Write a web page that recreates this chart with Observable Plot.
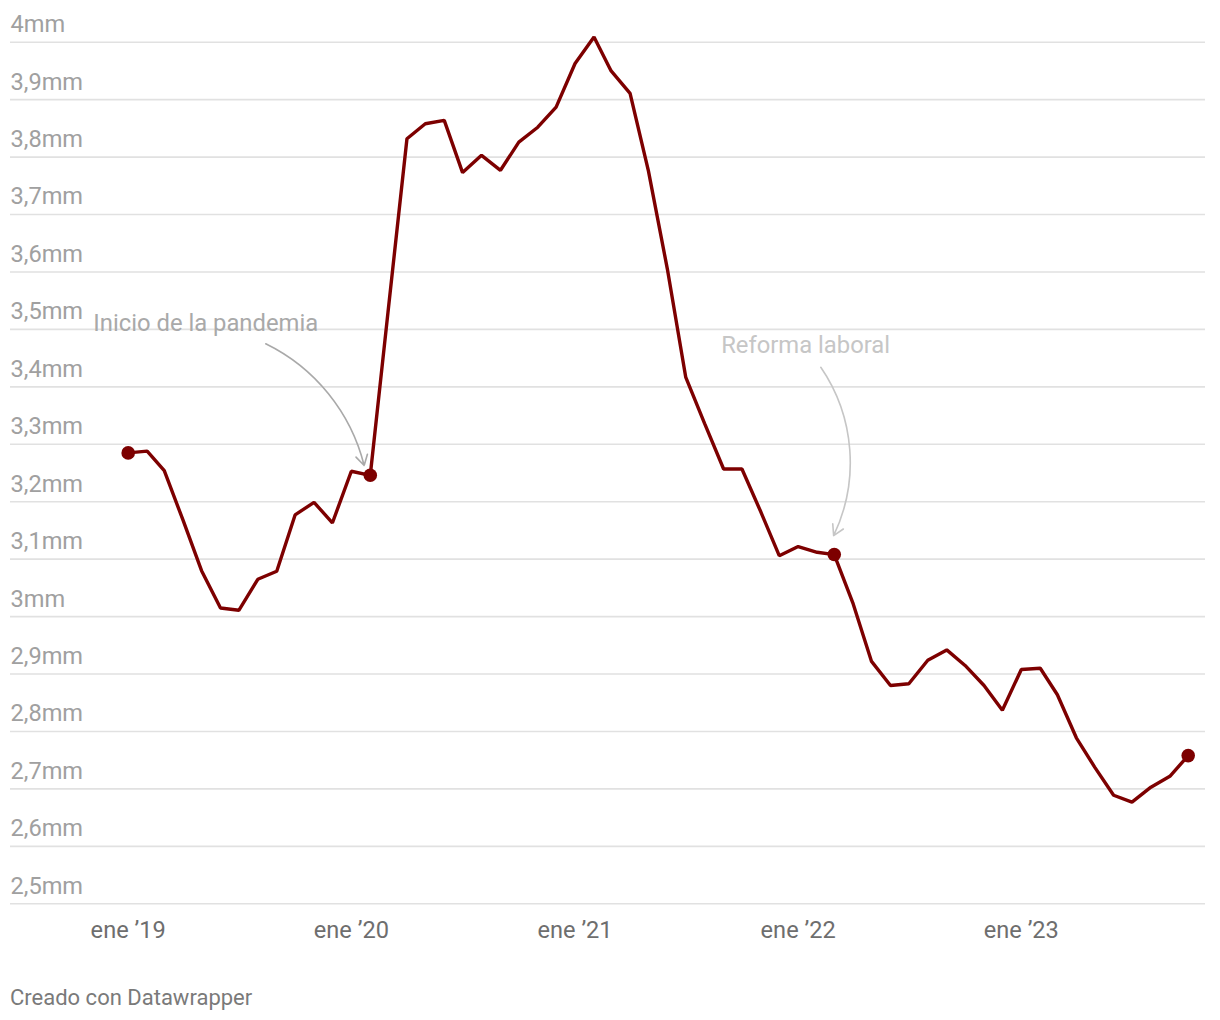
<!DOCTYPE html>
<html>
<head>
<meta charset="utf-8">
<script src="https://cdn.jsdelivr.net/npm/d3@7"></script>
<script src="https://cdn.jsdelivr.net/npm/@observablehq/plot@0.6"></script>
<style>
  html, body { margin: 0; padding: 0; background: #fff; }
  #wrap { position: relative; width: 1220px; height: 1020px; font-family: Roboto, "Noto Sans", sans-serif; }
  #chart { position: absolute; left: 0; top: 0; }
  #footer { position: absolute; left: 10px; top: 987px; font-size: 22px; line-height: 22px; color: #7a7a7a; }
</style>
</head>
<body>
<div id="wrap">
  <div id="chart"></div>
  <div id="footer">Creado con Datawrapper</div>
</div>
<script>
// Monthly series, Jan 2019 – Oct 2023
const firstMonth = "2019-01-01";
const lastMonth = "2023-10-01";
const values = [
  3.285, 3.288, 3.254, 3.167, 3.080, 3.015, 3.011, 3.065, 3.079, 3.177, 3.199, 3.163,
  3.253, 3.246, 3.530, 3.832, 3.858, 3.864, 3.773, 3.803, 3.777, 3.826, 3.852, 3.887,
  3.963, 4.009, 3.950, 3.911, 3.776, 3.605, 3.417, 3.336, 3.257, 3.257, 3.182, 3.106,
  3.122, 3.112, 3.108, 3.022, 2.922, 2.880, 2.883, 2.924, 2.942, 2.915, 2.880, 2.837,
  2.908, 2.910, 2.864, 2.789, 2.738, 2.689, 2.677, 2.703, 2.722, 2.758
];
// highlighted months (dots)
const highlightMonths = ["2019-01-01", "2020-02-01", "2022-03-01", "2023-10-01"];

// axis ticks
const yTicks = [2.5, 2.6, 2.7, 2.8, 2.9, 3.0, 3.1, 3.2, 3.3, 3.4, 3.5, 3.6, 3.7, 3.8, 3.9, 4.0];
const yTickLabels = ["2,5mm", "2,6mm", "2,7mm", "2,8mm", "2,9mm", "3mm", "3,1mm", "3,2mm", "3,3mm", "3,4mm", "3,5mm", "3,6mm", "3,7mm", "3,8mm", "3,9mm", "4mm"];
const xTicks = ["2019-01-01", "2020-01-01", "2021-01-01", "2022-01-01", "2023-01-01"];
const xTickLabels = ["ene \u201919", "ene \u201920", "ene \u201921", "ene \u201922", "ene \u201923"];

// annotations
const noteTexts = ["Inicio de la pandemia", "Reforma laboral"];
const noteDates = ["2018-11-05", "2021-08-28"];
const noteValues = [3.511, 3.472];
const noteColors = ["#a9a9a9", "#c6c6c6"];
const arrowStartDates = ["2019-08-14", "2022-02-07"];
const arrowStartValues = [3.475, 3.434];
const arrowEndDates = ["2020-01-22", "2022-02-28"];
const arrowEndValues = [3.263, 3.141];
const arrowBends = [25, 30];

// build tables
const months = d3.utcMonth.range(new Date(firstMonth), d3.utcMonth.offset(new Date(lastMonth), 1));
const data = months.map((d, i) => ({date: d, value: values[i]}));
const hlSet = new Set(highlightMonths.map(s => +new Date(s)));
const highlights = data.filter(d => hlSet.has(+d.date));
const yTable = yTicks.map((v, i) => ({v, label: yTickLabels[i]}));
const xTable = xTicks.map((s, i) => ({date: new Date(s), label: xTickLabels[i]}));
const notes = noteTexts.map((t, i) => ({text: t, date: new Date(noteDates[i]), value: noteValues[i], color: noteColors[i]}));
const arrows = noteTexts.map((t, i) => ({
  x1: new Date(arrowStartDates[i]), y1: arrowStartValues[i],
  x2: new Date(arrowEndDates[i]), y2: arrowEndValues[i],
  bend: arrowBends[i], color: noteColors[i]
}));

const lineColor = "#7d0000";

const chart = Plot.plot({
  width: 1220,
  height: 950,
  marginLeft: 10,
  marginRight: 15,
  marginTop: 41.7,
  marginBottom: 46.7,
  style: {fontFamily: "Roboto, 'Noto Sans', sans-serif", background: "#fff", overflow: "visible"},
  x: {type: "utc", domain: [new Date(firstMonth), new Date(lastMonth)], range: [127.7, 1187.7], axis: null},
  y: {domain: [2.5, 4.0], axis: null},
  marks: [
    Plot.ruleY(yTable, {y: "v", stroke: "#e1e1e1", strokeWidth: 1.6}),
    Plot.text(yTable, {y: "v", text: "label", frameAnchor: "left", textAnchor: "start", dy: -17.6, fontSize: 23.6, fill: "#a0a0a0"}),
    Plot.text(xTable, {x: "date", text: "label", frameAnchor: "bottom", dy: 34.5, fontSize: 23.6, fill: "#6e6e6e"}),
    ...arrows.map(a => Plot.arrow([a], {x1: "x1", y1: "y1", x2: "x2", y2: "y2", bend: a.bend, stroke: a.color, strokeWidth: 1.6, headLength: 11})),
    Plot.text(notes, {x: "date", y: "value", text: "text", textAnchor: "start", fontSize: 23.8, fill: "color"}),
    Plot.line(data, {x: "date", y: "value", stroke: lineColor, strokeWidth: 3.4, strokeLinejoin: "miter", curve: "linear"}),
    Plot.dot(highlights, {x: "date", y: "value", r: 6.8, fill: lineColor, stroke: "none"})
  ]
});
document.getElementById("chart").appendChild(chart);
</script>
</body>
</html>
